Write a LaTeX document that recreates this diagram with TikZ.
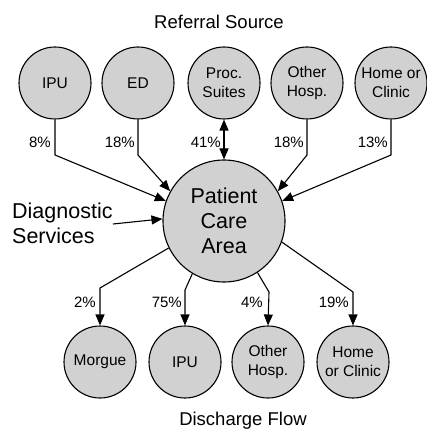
\documentclass[tikz,border=0pt]{standalone}
\usepackage{fontspec}
\setmainfont{Liberation Sans}
\usetikzlibrary{arrows.meta}
\begin{document}
\begin{tikzpicture}[x=1pt,y=-1pt,
  place/.style={circle,draw,line width=1.1pt,fill=black!18,minimum size=72pt,
    inner sep=0pt,align=center,font=\fontsize{15.5}{19}\selectfont},
  hub/.style={circle,draw,line width=1.1pt,fill=black!18,minimum size=122pt,
    inner sep=0pt,align=center,font=\fontsize{21.5}{25}\selectfont},
  link/.style={line width=1.1pt},
  flow/.style={line width=1.1pt,-{Triangle[length=11pt,width=9pt]}},
  pct/.style={font=\fontsize{15}{18}\selectfont,inner sep=0pt},
  title/.style={font=\fontsize{18.5}{22}\selectfont,inner sep=0pt}]
\useasboundingbox (0,0) rectangle (427,430);

% titles
\node[title] (src) at (219,22) {Referral Source};
\node[title] (dis) at (243,421) {Discharge Flow};

% central unit
\node[hub] (pca) at (224,221) {Patient\\Care\\Area};

% referral sources
\node[place] (s1) at (55,83)  {IPU};
\node[place] (s2) at (138,83) {ED};
\node[place] (s3) at (224,83) {Proc.\\Suites};
\node[place] (s4) at (307,83) {Other\\Hosp.};
\node[place] (s5) at (391,83) {Home or\\Clinic};

% discharge destinations
\node[place] (d1) at (100,362) {Morgue};
\node[place] (d2) at (185,362) {IPU};
\node[place] (d3) at (268,362) {Other\\Hosp.};
\node[place] (d4) at (353,362) {Home\\or Clinic};

% bend points of the incoming flows
\coordinate (b1) at (55,155);
\coordinate (b2) at (138,155);
\coordinate (b4) at (307,155);
\coordinate (b5) at (391,155);

\draw[flow] (s1.south) -- (b1) -- (pca.161);
\draw[flow] (s2.south) -- (b2) -- (pca.151);
\draw[line width=1.1pt,{Triangle[length=11pt,width=9pt]}-{Triangle[length=11pt,width=9pt]}] (s3.south) -- (pca.north);
\draw[flow] (s4.south) -- (b4) -- (pca.29.5);
\draw[flow] (s5.south) -- (b5) -- (pca.19);

% incoming shares
\node[pct,anchor=east] (p1) at (51,142)  {8\%};
\node[pct,anchor=east] (p2) at (135,142) {18\%};
\node[pct,anchor=east] (p3) at (221,142) {41\%};
\node[pct,anchor=east] (p4) at (304,142) {18\%};
\node[pct,anchor=east] (p5) at (388,142) {13\%};

% diagnostic services
\node[font=\fontsize{21.5}{25}\selectfont,align=left,inner sep=0pt,anchor=west] (diag) at (12,223) {Diagnostic\\Services};
\coordinate (dg) at (113,224);
\draw[flow] (dg) -- (pca.178);

% bend points of the outgoing flows
\coordinate (c1) at (100,288);
\coordinate (c2) at (185,290);
\coordinate (c3) at (269,292);
\coordinate (c4) at (353,292);

\draw[flow] (pca.206) -- (c1) -- (d1.north);
\draw[flow] (pca.239) -- (c2) -- (d2.north);
\draw[flow] (pca.303) -- (c3) -- (d3.north);
\draw[flow] (pca.340) -- (c4) -- (d4.north);

% outgoing shares
\node[pct,anchor=east] (q1) at (96,302)  {2\%};
\node[pct,anchor=east] (q2) at (182,302) {75\%};
\node[pct,anchor=east] (q3) at (263,302) {4\%};
\node[pct,anchor=east] (q4) at (349,302) {19\%};
\end{tikzpicture}
\end{document}
